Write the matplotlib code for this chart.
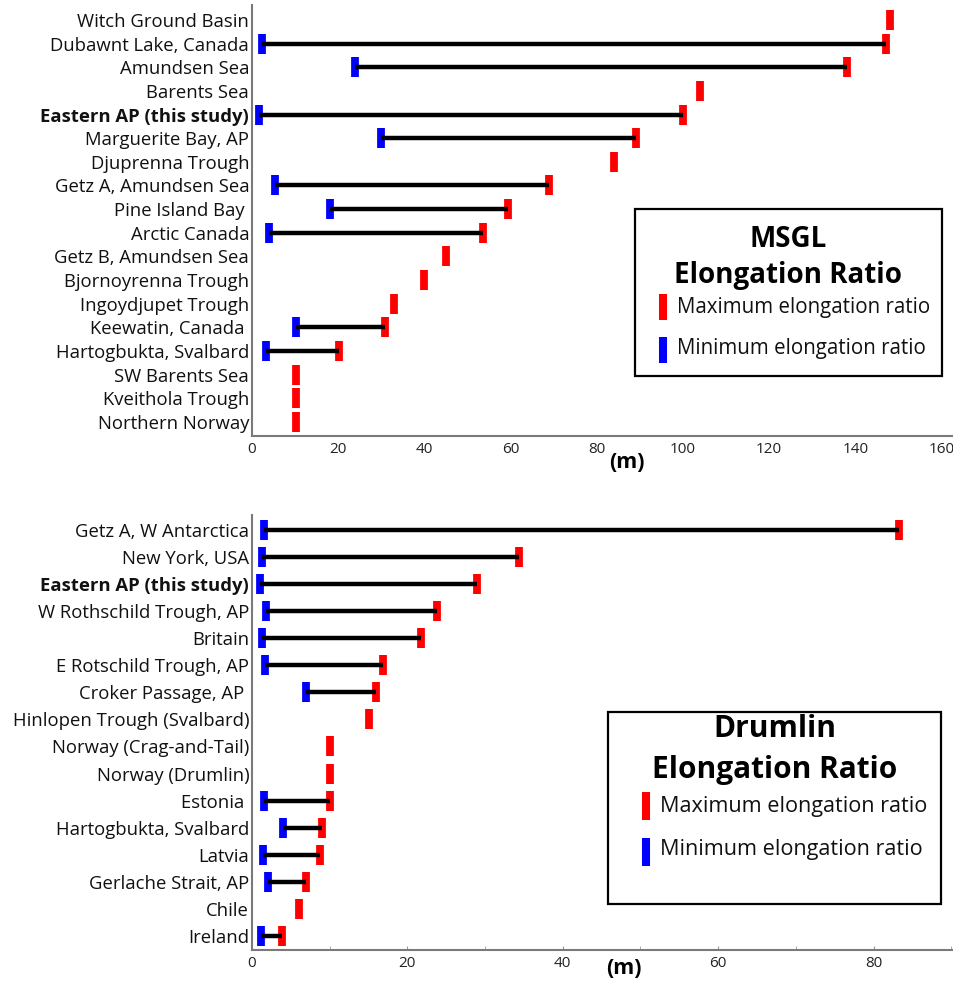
import numpy as np
import matplotlib
matplotlib.use("Agg")
import matplotlib.pyplot as plt
from matplotlib.lines import Line2D
from matplotlib.patches import Rectangle
from matplotlib.ticker import MultipleLocator

plt.rcParams['font.family'] = ['Open Sans', 'DejaVu Sans']

W, H = 954, 981

# MSGL elongation ratios (top panel), nan = no minimum reported
msgl_sites = ["Witch Ground Basin", "Dubawnt Lake, Canada", "Amundsen Sea", "Barents Sea",
              "Eastern AP (this study)", "Marguerite Bay, AP", "Djuprenna Trough",
              "Getz A, Amundsen Sea", "Pine Island Bay ", "Arctic Canada",
              "Getz B, Amundsen Sea", "Bjornoyrenna Trough", "Ingoydjupet Trough",
              "Keewatin, Canada ", "Hartogbukta, Svalbard", "SW Barents Sea",
              "Kveithola Trough", "Northern Norway"]
msgl_max = np.array([148, 147, 138, 104, 100, 89, 84, 69, 59.5, 53.5,
                     45, 40, 33, 30.8, 20.2, 10.2, 10.2, 10.2])
msgl_min = np.array([np.nan, 2.3, 24, np.nan, 1.6, 30, np.nan, 5.4, 18, 4,
                     np.nan, np.nan, np.nan, 10.2, 3.3, np.nan, np.nan, np.nan])

# Drumlin elongation ratios (bottom panel)
drumlin_sites = ["Getz A, W Antarctica", "New York, USA", "Eastern AP (this study)",
                 "W Rothschild Trough, AP", "Britain", "E Rotschild Trough, AP",
                 "Croker Passage, AP ", "Hinlopen Trough (Svalbard)",
                 "Norway (Crag-and-Tail)", "Norway (Drumlin)", "Estonia ",
                 "Hartogbukta, Svalbard", "Latvia", "Gerlache Strait, AP", "Chile", "Ireland"]
drumlin_max = np.array([83.3, 34.4, 29, 23.8, 21.7, 16.9, 16.0, 15.0,
                        10, 10, 10, 9.0, 8.8, 7.0, 6.0, 3.9])
drumlin_min = np.array([1.5, 1.3, 1.0, 1.8, 1.3, 1.7, 7.0, np.nan,
                        np.nan, np.nan, 1.5, 4.0, 1.4, 2.1, np.nan, 1.2])


def px(x, y):
    return x / W, 1 - y / H


def draw_panel(ax, sites, lo, hi, xmax, ms):
    y = np.arange(len(sites))
    ok = ~np.isnan(lo)
    ax.hlines(y[ok], lo[ok], hi[ok], color='black', lw=3.2, zorder=3)
    ax.plot(hi, y, ls='none', marker='|', ms=ms, mew=5.6, color='#ff0000', zorder=2)
    ax.plot(lo[ok], y[ok], ls='none', marker='|', ms=ms, mew=5.6, color='#0000ff', zorder=2)
    ax.set_yticks(y)
    ax.set_yticklabels(sites, fontsize=13.3, color='#111111')
    for lab in ax.get_yticklabels():
        if lab.get_text().startswith("Eastern AP"):
            lab.set_fontweight('bold')
    ax.set_xlim(0, xmax)
    ax.spines[['top', 'right']].set_visible(False)
    for s in ['left', 'bottom']:
        ax.spines[s].set_color('#7a7a7a')
        ax.spines[s].set_linewidth(1.5)
    ax.tick_params(axis='y', length=0, pad=2)
    ax.tick_params(axis='x', labelsize=11, colors='#222222', length=0, pad=4)


def legend_box(fig, box, title, tsize, title_y, entries_y, sw_x, txt_x, sw_h, esize):
    x0, y0, x1, y1 = box
    fig.add_artist(Rectangle(px(x0, y1), (x1 - x0) / W, (y1 - y0) / H, fill=False,
                             ec='black', lw=1.6, transform=fig.transFigure))
    cx = (x0 + x1) / 2
    for line, yb in zip(title.split("\n"), title_y):
        fig.text(*px(cx, yb), line, ha='center', va='baseline', fontsize=tsize,
                 fontweight='bold')
    labels = ["Maximum elongation ratio", "Minimum elongation ratio"]
    colors = ['#ff0000', '#0000ff']
    for lab, col, (yc, yb) in zip(labels, colors, entries_y):
        a = px(sw_x, yc - sw_h / 2)
        b = px(sw_x, yc + sw_h / 2)
        fig.add_artist(Line2D([a[0], b[0]], [a[1], b[1]], color=col, lw=5.8,
                              solid_capstyle='butt', transform=fig.transFigure))
        fig.text(*px(txt_x, yb), lab, ha='left', va='baseline', fontsize=esize,
                 color='#111111')


fig = plt.figure(figsize=(W / 100, H / 100), dpi=100)

ax1 = fig.add_axes([252 / W, 1 - 436 / H, 1 - 252 / W, (436 - 5) / H])
draw_panel(ax1, msgl_sites, msgl_min, msgl_max, (W - 252) / 4.31, 14)
ax1.set_ylim(len(msgl_sites) - 1 + 0.59, -0.63)
ax1.xaxis.set_major_locator(MultipleLocator(20))

ax2 = fig.add_axes([252 / W, 1 - 950 / H, 1 - 252 / W, (950 - 515) / H])
draw_panel(ax2, drumlin_sites, drumlin_min, drumlin_max, (W - 252) / 7.77, 15)
ax2.set_ylim(len(drumlin_sites) - 1 + 0.52, -0.55)
ax2.xaxis.set_major_locator(MultipleLocator(20))
ax2.xaxis.set_minor_locator(MultipleLocator(10))
ax2.tick_params(axis='x', which='both', length=3, color='#999999', direction='in')

fig.text(*px(627, 463), "(m)", ha='center', va='center', fontsize=15.5, fontweight='bold')
fig.text(*px(624, 969), "(m)", ha='center', va='center', fontsize=15.5, fontweight='bold')

legend_box(fig, (635, 209, 942, 376), "MSGL\nElongation Ratio", 20, (247, 283),
           [(307, 313), (350, 354)], 663, 677, 26, 14.8)
legend_box(fig, (608, 712, 941, 904), "Drumlin\nElongation Ratio", 21.5, (737, 778),
           [(806, 812), (852, 855)], 646, 660, 28, 15.6)

fig.savefig("out.png", dpi=100)
